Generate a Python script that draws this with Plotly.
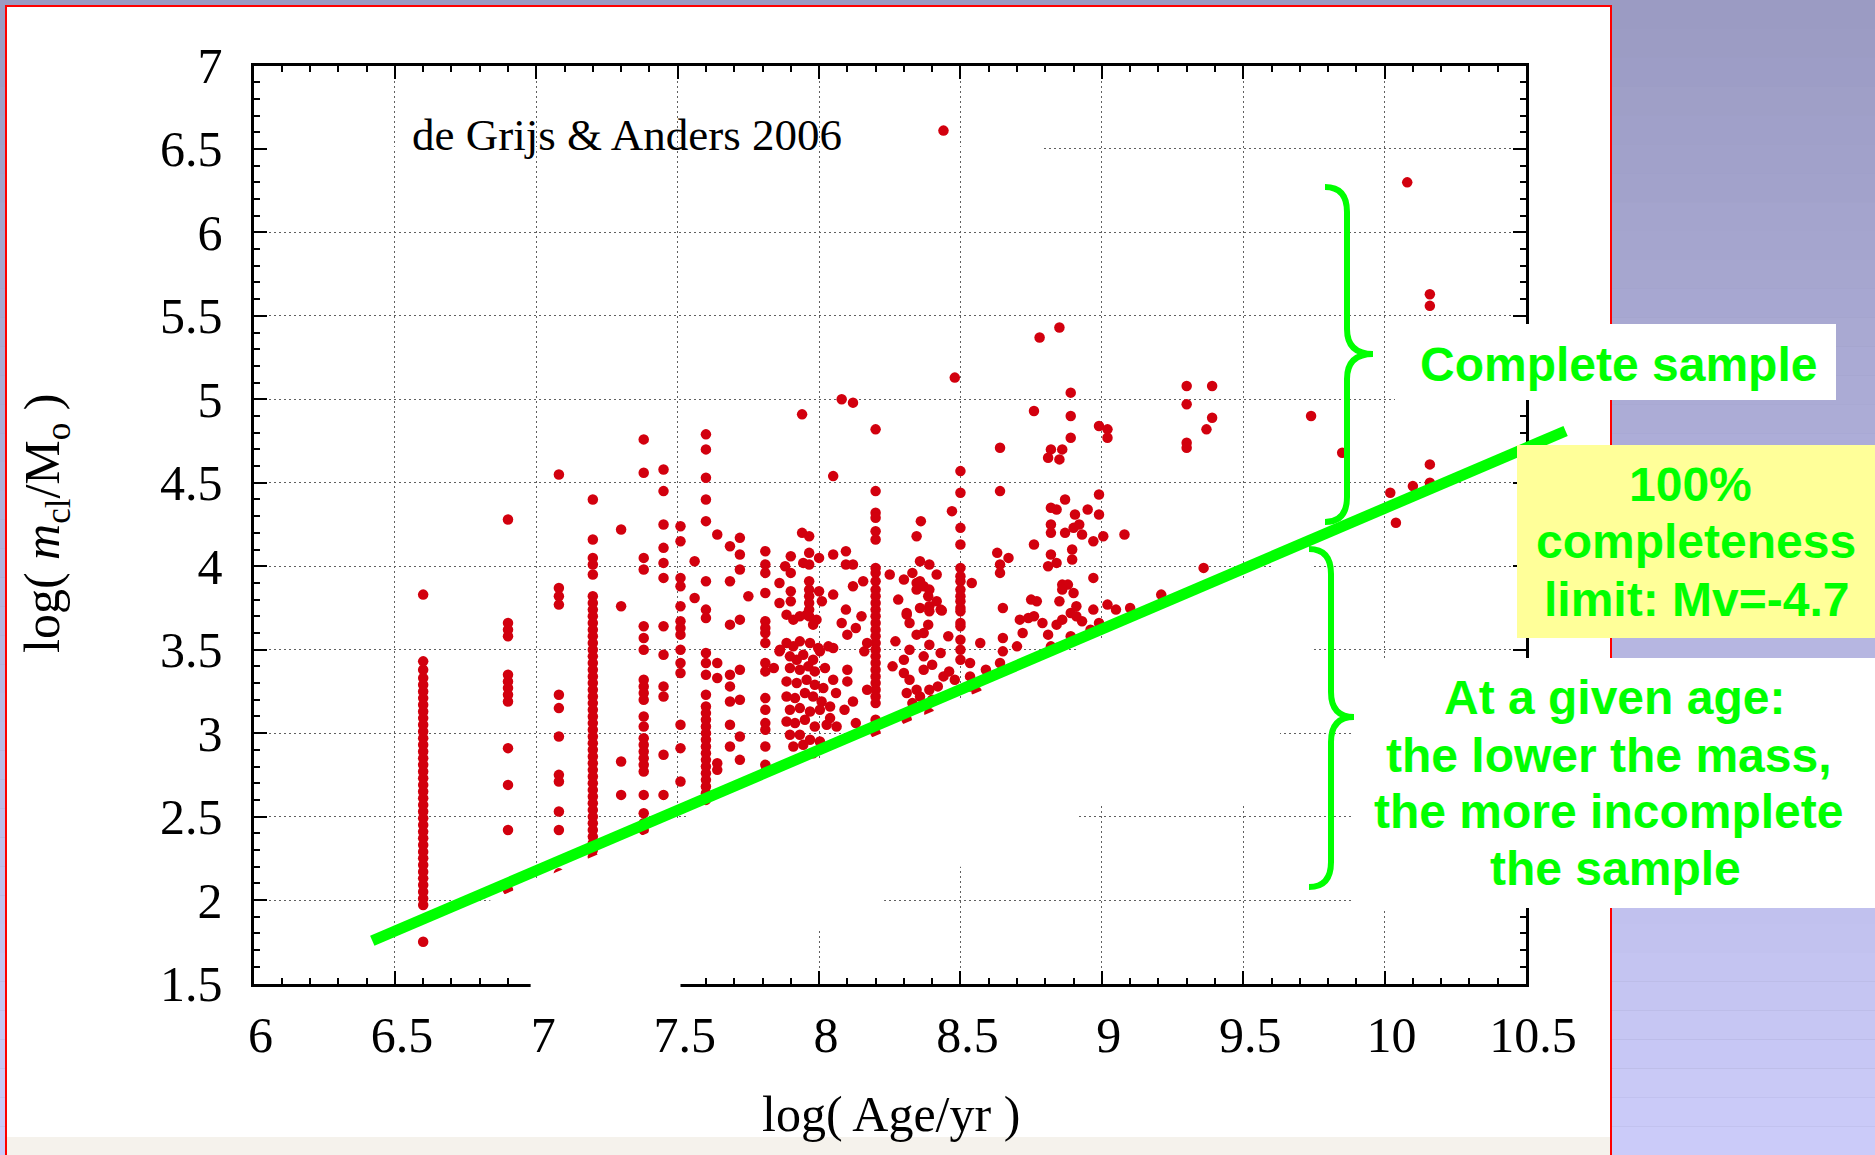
import numpy as np
import plotly.graph_objects as go

# ---------------- data ----------------
# vertical stacks of clusters that share one age bin
stack_ages = [6.60, 6.90, 7.08, 7.20, 7.30, 7.38, 7.45, 7.51, 7.60, 7.81, 7.965, 8.20, 8.50]
stack_6_60 = [3.83, 3.43, 3.38, 3.33, 3.29, 3.25, 3.21, 3.17, 3.13, 3.09, 3.05, 3.01, 2.97, 2.93,
              2.89, 2.85, 2.81, 2.77, 2.73, 2.69, 2.65, 2.61, 2.57, 2.53, 2.49, 2.45, 2.41, 2.37,
              2.33, 2.29, 2.25, 2.21, 2.17, 2.13, 2.09, 2.05, 2.01, 1.97, 1.75]
stack_6_90 = [4.28, 3.66, 3.62, 3.58, 3.35, 3.31, 3.27, 3.23, 3.19, 2.91, 2.69, 2.42, 2.06]
stack_7_08 = [4.55, 3.87, 3.82, 3.77, 3.23, 3.15, 2.98, 2.75, 2.71, 2.53, 2.42, 2.16]
stack_7_20 = [4.40, 4.16, 4.05, 4.01, 3.95, 3.82, 3.78, 3.74, 3.70, 3.66, 3.62, 3.58, 3.54, 3.50,
              3.46, 3.42, 3.38, 3.34, 3.30, 3.26, 3.22, 3.18, 3.14, 3.10, 3.06, 3.02, 2.98, 2.94,
              2.90, 2.86, 2.82, 2.78, 2.74, 2.70, 2.66, 2.62, 2.58, 2.54, 2.50, 2.46, 2.42, 2.38,
              2.34, 2.30, 2.26]
stack_7_30 = [4.22, 3.76, 2.83, 2.63]
stack_7_38 = [4.76, 4.56, 4.05, 3.98, 3.64, 3.57, 3.50, 3.32, 3.28, 3.24, 3.20, 3.10, 3.04, 2.97,
              2.93, 2.89, 2.85, 2.81, 2.77, 2.63, 2.52, 2.46, 2.42]
stack_7_45 = [4.58, 4.45, 4.25, 4.11, 4.02, 3.93, 3.64, 3.47, 3.28, 3.22, 2.87, 2.63]
stack_7_51 = [4.24, 4.15, 3.93, 3.88, 3.76, 3.67, 3.63, 3.59, 3.50, 3.42, 3.36, 3.05, 2.91, 2.71]
stack_7_60 = [4.79, 4.70, 4.53, 4.40, 4.27, 3.91, 3.74, 3.69, 3.48, 3.42, 3.35, 3.23, 3.16, 3.12,
              3.08, 3.04, 3.00, 2.96, 2.92, 2.88, 2.84, 2.80, 2.76, 2.72, 2.68, 2.64, 2.60]
stack_7_81 = [4.09, 4.01, 3.96, 3.84, 3.67, 3.63, 3.60, 3.54, 3.42, 3.37, 3.21, 3.14, 3.06, 3.02,
              2.92, 2.81, 2.77]
stack_7_97 = [3.91, 3.86, 3.82, 3.78, 3.74, 3.70]
stack_8_20 = [4.82, 4.45, 4.32, 4.29, 4.21, 4.16, 3.99, 3.96, 3.91, 3.86, 3.82, 3.78, 3.74, 3.70,
              3.66, 3.62, 3.58, 3.54, 3.50, 3.46, 3.42, 3.38, 3.34, 3.30, 3.26, 3.22, 3.18, 3.08,
              3.00]
stack_8_50 = [4.57, 4.44, 4.23, 4.13, 3.99, 3.94, 3.91, 3.86, 3.82, 3.79, 3.75, 3.73, 3.66, 3.64,
              3.56, 3.50, 3.44]
stack_masses = [stack_6_60, stack_6_90, stack_7_08, stack_7_20, stack_7_30, stack_7_38, stack_7_45,
                stack_7_51, stack_7_60, stack_7_81, stack_7_97, stack_8_20, stack_8_50]

# scattered clusters: log(Age/yr)
scatter_age = [
    8.44, 10.08, 10.16, 10.16, 8.78, 8.85, 8.48, 8.89, 9.30, 9.39, 8.08, 8.12, 7.94, 8.76, 8.89,
    8.99, 9.02, 9.02, 8.89, 8.64, 8.82, 8.86, 8.81, 8.85, 9.30, 9.39, 9.37, 9.30, 9.30, 9.74,
    9.85, 10.16, 10.02, 10.10, 10.16, 10.04, 9.36, 9.08, 9.21, 8.97, 8.05, 8.64, 8.99,
    7.64, 7.685, 7.72, 7.72, 7.685, 7.72, 7.56, 7.56, 7.75,
    7.86, 7.88, 7.90, 7.90, 7.90, 7.90, 7.86, 7.94, 7.965, 7.965, 7.944, 7.965,
    8.00, 8.01, 8.00, 8.05, 8.095, 8.095, 8.12, 8.05, 8.095, 8.12, 8.156,
    7.64, 7.64, 7.64, 7.64, 7.685, 7.72, 7.685, 7.685, 7.72, 7.685, 7.72, 7.685, 7.72, 7.685, 7.72,
    7.86, 7.84,
    7.885, 7.909, 7.932, 7.956, 7.991, 7.979,
    7.862, 7.885, 7.909, 7.932, 7.968, 7.997, 8.033, 8.05,
    7.897, 7.921, 7.944, 7.979, 8.003,
    7.897, 7.932, 7.962, 7.985, 8.021,
    7.885, 7.921, 7.956, 7.985, 8.015, 8.05,
    7.885, 7.915, 7.95, 7.979, 8.009, 8.039,
    7.897, 7.932, 7.968, 8.003, 8.039,
    7.885, 7.915, 7.95, 7.985, 8.027, 8.062,
    7.897, 7.932, 7.968, 8.003,
    7.909, 7.944, 7.979,
    8.10, 8.13, 8.17, 8.16, 8.17, 8.13, 8.10, 8.06, 8.10, 8.12, 8.09, 8.15, 8.08,
    8.30, 8.33, 8.345, 8.357, 8.37, 8.345, 8.39, 8.386, 8.416, 8.39, 8.434, 8.416, 8.357, 8.31,
    8.39, 8.357, 8.345, 8.36, 8.47,
    8.31, 8.32, 8.39, 8.43, 8.386, 8.457, 8.345, 8.37, 8.32, 8.39, 8.43, 8.30, 8.37, 8.40, 8.37,
    8.46, 8.44, 8.48, 8.30, 8.32, 8.345, 8.357, 8.39, 8.42, 8.40, 8.31, 8.33, 8.31, 8.39, 8.27,
    8.26, 8.28, 8.25,
    8.534, 8.534, 8.534, 8.557, 8.59, 8.57, 8.54,
    8.65, 8.65, 8.64, 8.70, 8.72, 8.71, 8.74, 8.76, 8.79, 8.81, 8.84, 8.86, 8.89, 8.93, 8.96,
    8.99, 9.05, 9.10, 8.89, 8.82, 8.84,
    8.65, 8.75, 8.77,
    8.63, 8.67, 8.64, 8.64, 8.76, 8.82, 8.84, 8.81, 8.895, 8.895, 8.86, 8.88, 8.86, 8.90, 8.85,
    8.91, 8.91, 8.97, 9.02,
    8.87, 8.84, 8.82, 8.95, 8.905, 8.99, 8.82, 8.82, 8.87, 8.90, 8.92, 8.93, 8.97, 9.005,
]
# scattered clusters: log(m_cl/M_sun)
scatter_mass = [
    6.61, 6.30, 5.63, 5.56, 5.37, 5.43, 5.13, 5.04, 5.08, 5.08, 5.00, 4.98, 4.91, 4.93, 4.90,
    4.84, 4.82, 4.77, 4.77, 4.71, 4.70, 4.70, 4.65, 4.64, 4.97, 4.89, 4.82, 4.74, 4.71, 4.90,
    4.68, 4.61, 4.44, 4.48, 4.50, 4.26, 3.99, 4.19, 3.83, 3.93, 4.54, 4.45, 4.43,
    4.19, 4.12, 4.17, 4.07, 3.91, 3.98, 4.03, 3.81, 3.82,
    3.90, 4.00, 3.96, 4.06, 3.85, 3.79, 3.78, 4.20, 4.18, 4.08, 4.02, 4.01,
    3.85, 3.79, 4.05, 4.07, 4.09, 4.01, 4.01, 3.83, 3.74, 3.88, 3.91,
    3.42, 3.33, 2.82, 2.78, 3.65, 3.68, 3.35, 3.28, 3.38, 3.19, 3.20, 3.05, 2.98, 2.92, 2.84,
    3.49, 3.39,
    3.71, 3.68, 3.70, 3.71, 3.68, 3.65,
    3.50, 3.54, 3.52, 3.55, 3.54, 3.51, 3.52, 3.51,
    3.46, 3.44, 3.47, 3.44, 3.49,
    3.39, 3.38, 3.40, 3.37, 3.39,
    3.31, 3.30, 3.32, 3.29, 3.27, 3.32,
    3.22, 3.21, 3.24, 3.22, 3.19, 3.16,
    3.14, 3.15, 3.13, 3.14, 3.09,
    3.07, 3.06, 3.08, 3.04, 3.05, 3.04,
    2.99, 2.99, 2.96, 2.95,
    2.92, 2.93, 2.88,
    3.59, 3.63, 3.54, 3.49, 3.26, 3.06, 3.38, 3.24, 3.31, 3.19, 3.14, 3.70, 3.66,
    3.92, 3.96, 3.90, 3.91, 3.88, 3.86, 3.86, 3.82, 3.79, 3.76, 3.735, 3.95, 3.75, 3.72,
    4.01, 4.03, 4.18, 4.27, 4.33,
    3.71, 3.66, 3.73, 3.74, 3.65, 3.58, 3.59, 3.60, 3.50, 3.53, 3.48, 3.44, 3.46, 3.41, 3.38,
    3.37, 3.34, 3.32, 3.36, 3.32, 3.26, 3.22, 3.26, 3.28, 3.20, 3.24, 3.18, 3.08, 3.12, 3.55,
    3.40, 3.80, 3.95,
    3.42, 3.34, 3.28, 3.25, 3.38, 3.54, 3.90,
    3.57, 3.49, 3.42, 3.52, 3.60, 3.68, 3.69, 3.70, 3.66, 3.59, 3.65, 3.68, 3.72, 3.67, 3.62,
    3.66, 3.74, 3.75, 3.58, 3.52, 3.51,
    3.75, 3.80, 3.79,
    4.08, 4.05, 4.01, 3.96, 4.13, 4.07, 4.02, 4.00, 4.10, 4.04, 3.89, 3.89, 3.86, 3.84, 3.79,
    3.76, 3.70, 3.74, 3.77,
    4.40, 4.34, 4.35, 4.34, 4.31, 4.31, 4.25, 4.20, 4.20, 4.23, 4.25, 4.19, 4.15, 4.18,
]

# 100% completeness limit (Mv = -4.7), green line end points
limit_age = [6.42, 10.64]
limit_mass = [1.756, 4.81]

# axes
age_ticks = [6, 6.5, 7, 7.5, 8, 8.5, 9, 9.5, 10, 10.5]
age_tick_labels = ["6", "6.5", "7", "7.5", "8", "8.5", "9", "9.5", "10", "10.5"]
mass_ticks = [1.5, 2, 2.5, 3, 3.5, 4, 4.5, 5, 5.5, 6, 6.5, 7]
mass_tick_labels = ["1.5", "2", "2.5", "3", "3.5", "4", "4.5", "5", "5.5", "6", "6.5", "7"]

# ---------------- layout geometry (pixels) ----------------
W, H = 1875, 1155
FL, FR, FT, FB = 253.5, 1526.0, 65.5, 983.5
X0, X1, Y0, Y1 = 6.0, 10.5, 1.5, 7.0
kx = (FR - FL) / (X1 - X0)
ky = (FB - FT) / (Y1 - Y0)
x2_range = [X0 - FL / kx, X0 + (W - FL) / kx]
y2_range = [Y0 - (H - FB) / ky, Y1 + FT / ky]


def PX(p):
    return p / W


def PY(p):
    return 1 - p / H


ages = []
masses = []
for a, ms in zip(stack_ages, stack_masses):
    ages += [a] * len(ms)
    masses += ms
ages += scatter_age
masses += scatter_mass

fig = go.Figure()
fig.add_trace(go.Scatter(x=ages, y=masses, mode="markers",
                         marker=dict(color="#d2000e", size=10.5, line=dict(width=0)),
                         xaxis="x", yaxis="y", hoverinfo="skip", showlegend=False))


def line_y(x):
    return float(np.interp(x, limit_age, limit_mass))


off = 0.06
mask = [(6.82, line_y(6.82) - off), (9.74, line_y(9.74) - off), (9.74, 3.25), (9.63, 3.25),
        (9.63, 2.58), (8.91, 2.58), (8.91, 2.20), (8.23, 2.20), (8.23, 1.83), (7.51, 1.83),
        (7.51, 1.42), (6.98, 1.42), (6.98, 1.93)]
fig.add_trace(go.Scatter(x=[p[0] for p in mask], y=[p[1] for p in mask], mode="lines",
                         fill="toself", fillcolor="white", line=dict(width=0, color="white"),
                         xaxis="x2", yaxis="y2", hoverinfo="skip", showlegend=False))
fig.add_trace(go.Scatter(x=limit_age, y=limit_mass, mode="lines",
                         line=dict(color="#00ff00", width=11),
                         xaxis="x2", yaxis="y2", hoverinfo="skip", showlegend=False))

shapes = []
# background gradient
top_rgb, bot_rgb = (155, 155, 195), (203, 203, 249)
nb = 40
for i in range(nb):
    t = i / (nb - 1)
    c = tuple(round(a + (b - a) * t) for a, b in zip(top_rgb, bot_rgb))
    shapes.append(dict(type="rect", xref="paper", yref="paper", x0=0, x1=1,
                       y0=PY((i + 1) * H / nb), y1=PY(i * H / nb),
                       fillcolor="rgb(%d,%d,%d)" % c, line=dict(width=0), layer="below"))
# white slide panel
shapes.append(dict(type="rect", xref="paper", yref="paper", x0=PX(6), x1=PX(1611),
                   y0=PY(1160), y1=PY(6), fillcolor="white", line=dict(width=0), layer="below"))
for (xa, ya, xb, yb) in [(6, 5, 6, 1160), (5, 6, 1612, 6), (1611, 5, 1611, 1160)]:
    shapes.append(dict(type="line", xref="paper", yref="paper", x0=PX(xa), y0=PY(ya),
                       x1=PX(xb), y1=PY(yb), line=dict(color="#ff0000", width=2), layer="below"))
# hide part of the 6.5 grid line behind the label
shapes.append(dict(type="rect", xref="x", yref="y", x0=6.0, x1=8.79, y0=6.488, y1=6.512,
                   fillcolor="white", line=dict(width=0), layer="between"))
# beige bottom strip
shapes.append(dict(type="rect", xref="paper", yref="paper", x0=PX(7), x1=PX(1610),
                   y0=PY(1160), y1=PY(1137), fillcolor="#f5f2ec", line=dict(width=0), layer="above"))
# text boxes
shapes.append(dict(type="rect", xref="paper", yref="paper", x0=PX(1395), x1=PX(1836),
                   y0=PY(400), y1=PY(324), fillcolor="white", line=dict(width=0), layer="above"))
shapes.append(dict(type="rect", xref="paper", yref="paper", x0=PX(1517), x1=1,
                   y0=PY(638), y1=PY(445), fillcolor="#ffff99", line=dict(width=0), layer="above"))
shapes.append(dict(type="rect", xref="paper", yref="paper", x0=PX(1353), x1=1,
                   y0=PY(908), y1=PY(658), fillcolor="white", line=dict(width=0), layer="above"))


def brace(xe, y1, y2, xv, xt, ym, r=25):
    pts = [("M", [(xe, y1)]), ("Q", [(xv, y1), (xv, y1 + r)]), ("L", [(xv, ym - r)]),
           ("Q", [(xv, ym), (xt, ym)]), ("Q", [(xv, ym), (xv, ym + r)]), ("L", [(xv, y2 - r)]),
           ("Q", [(xv, y2), (xe, y2)])]
    s = ""
    for cmd, ps in pts:
        s += cmd + " " + " ".join("%.5f,%.5f" % (PX(a), PY(b)) for a, b in ps) + " "
    return s.strip()


for args in [(1325, 187, 522, 1347, 1373, 354), (1309, 549, 887, 1331, 1354, 717)]:
    shapes.append(dict(type="path", xref="paper", yref="paper", path=brace(*args),
                       line=dict(color="#00ff00", width=6), layer="above"))

ann = []
gfont = dict(family="Liberation Sans, Arial, sans-serif", size=48, color="#00ff00")
for txt, cx, cy in [("Complete sample", 1618, 364),
                    ("100%", 1690, 484), ("completeness", 1696, 541), ("limit: Mv=-4.7", 1696, 599),
                    ("At a given age:", 1614, 697), ("the lower the mass,", 1608, 755),
                    ("the more incomplete", 1608, 811), ("the sample", 1615, 868)]:
    ann.append(dict(text="<b>%s</b>" % txt, x=PX(cx), y=PY(cy), xref="paper", yref="paper",
                    xanchor="center", yanchor="middle", showarrow=False, font=gfont))
sfont = dict(family="Liberation Serif, Times New Roman, serif", size=45, color="black")
ann.append(dict(text="de Grijs &amp; Anders 2006", x=PX(410), y=PY(134.5), xref="paper",
                yref="paper", xanchor="left", yanchor="middle", showarrow=False, font=sfont))
tfont = dict(family="Liberation Serif, Times New Roman, serif", size=50, color="black")
ann.append(dict(text="log( Age/yr )", x=PX(891), y=PY(1114), xref="paper", yref="paper",
                xanchor="center", yanchor="middle", showarrow=False, font=tfont))
ann.append(dict(text="log( <i>m</i><sub>cl</sub>/M<sub>o</sub> )", x=PX(46), y=PY(524),
                xref="paper", yref="paper", xanchor="center", yanchor="middle", textangle=-90,
                showarrow=False, font=tfont))

common = dict(ticks="inside", ticklen=13, tickwidth=2, tickcolor="black", showline=True,
              linewidth=3, linecolor="black", mirror="ticks", showgrid=True, gridcolor="#606060",
              gridwidth=1, griddash="2px,3px", zeroline=False, fixedrange=True, automargin=False,
              tickfont=dict(family="Liberation Serif, Times New Roman, serif", size=50,
                            color="black"))

fig.update_layout(
    template="none",
    width=W, height=H, margin=dict(l=0, r=0, t=0, b=0, pad=0, autoexpand=False),
    paper_bgcolor="#9c9cc4", plot_bgcolor="rgba(0,0,0,0)", showlegend=False,
    xaxis=dict(domain=[FL / W, FR / W], range=[X0, X1], anchor="y", tickmode="array",
               tickvals=age_ticks, ticktext=age_tick_labels, ticklabelstandoff=5,
               ticklabelshift=7,
               minor=dict(tickmode="linear", tick0=6, dtick=0.1, ticks="inside", ticklen=6,
                          tickwidth=2, tickcolor="black", showgrid=False), **common),
    yaxis=dict(domain=[1 - FB / H, 1 - FT / H], range=[Y0, Y1], anchor="x", tickmode="array",
               tickvals=mass_ticks, ticktext=mass_tick_labels, ticklabelstandoff=18,
               minor=dict(tickmode="linear", tick0=1.5, dtick=0.1, ticks="inside", ticklen=6,
                          tickwidth=2, tickcolor="black", showgrid=False), **common),
    xaxis2=dict(domain=[0, 1], range=x2_range, anchor="y2", visible=False, fixedrange=True,
                automargin=False),
    yaxis2=dict(domain=[0, 1], range=y2_range, anchor="x2", visible=False, fixedrange=True,
                automargin=False),
    shapes=shapes, annotations=ann,
)

fig.write_html("out.html")
